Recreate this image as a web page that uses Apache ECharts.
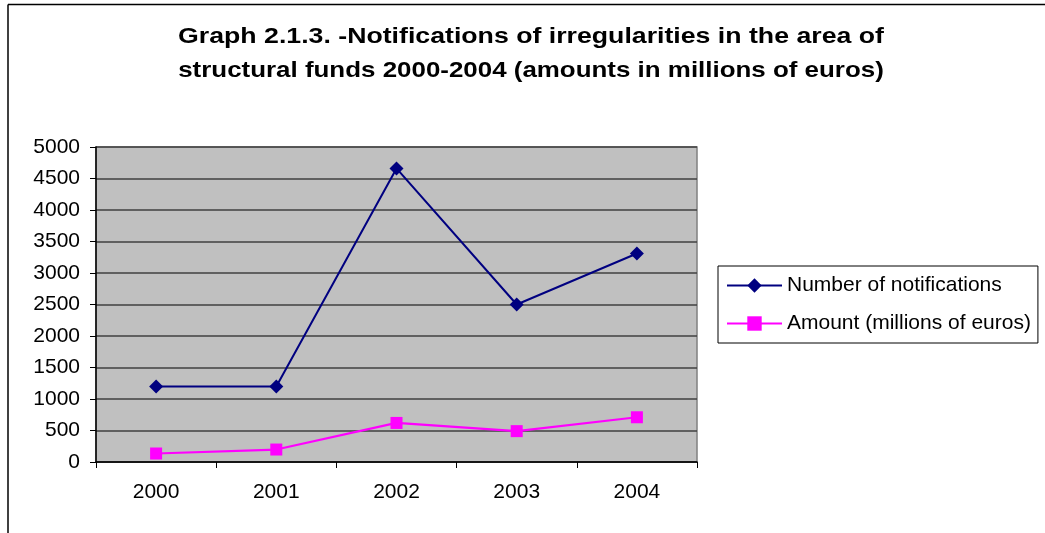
<!DOCTYPE html>
<html>
<head>
<meta charset="utf-8">
<script src="https://cdn.jsdelivr.net/npm/echarts@6/dist/echarts.min.js"></script>
<style>
html,body{margin:0;padding:0;background:#fff;}
#chart{width:1045px;height:533px;}
</style>
</head>
<body>
<div id="chart"></div>
<script>
var titleLines = ['Graph 2.1.3. -Notifications of irregularities in the area of', 'structural funds 2000-2004 (amounts in millions of euros)'];
var years = ['2000', '2001', '2002', '2003', '2004'];
var notifications = [1200, 1200, 4660, 2500, 3310];
var amounts = [135, 198, 620, 490, 710];
var seriesNames = ['Number of notifications', 'Amount (millions of euros)'];

var FONT = '"Liberation Sans", Arial, Helvetica, sans-serif';
var chart = echarts.init(document.getElementById('chart'), null, {renderer: 'canvas'});
chart.setOption({
  animation: false,
  backgroundColor: '#ffffff',
  graphic: [
    {type: 'line', shape: {x1: 8, y1: 4.5, x2: 1045, y2: 4.5}, style: {stroke: '#000', lineWidth: 1.5}, silent: true},
    {type: 'line', shape: {x1: 8, y1: 4.5, x2: 8, y2: 533}, style: {stroke: '#000', lineWidth: 1.5}, silent: true},
    {type: 'text', x: 531, y: 37, scaleX: 1.213, silent: true,
     style: {text: titleLines[0], fill: '#000', font: 'bold 22px ' + FONT, textAlign: 'center', textVerticalAlign: 'middle'}},
    {type: 'text', x: 531, y: 71, scaleX: 1.178, silent: true,
     style: {text: titleLines[1], fill: '#000', font: 'bold 22px ' + FONT, textAlign: 'center', textVerticalAlign: 'middle'}}
  ],
  legend: {
    orient: 'vertical',
    left: 718,
    top: 266,
    padding: [9, 7, 9, 8],
    itemGap: 17,
    itemWidth: 55,
    itemHeight: 18,
    backgroundColor: '#fff',
    borderColor: '#000',
    borderWidth: 1,
    textStyle: {fontFamily: FONT, fontSize: 21, color: '#000'},
    data: seriesNames
  },
  grid: {
    left: 96, top: 147, width: 601, height: 315,
    show: true, backgroundColor: '#C0C0C0', borderColor: '#808080', borderWidth: 1.5
  },
  xAxis: {
    type: 'category',
    data: years,
    boundaryGap: true,
    axisLine: {show: true, lineStyle: {color: '#000', width: 1.5}},
    axisTick: {show: true, length: 6, interval: 0, lineStyle: {color: '#000'}},
    axisLabel: {fontFamily: FONT, fontSize: 21, color: '#000', margin: 20},
    splitLine: {show: false}
  },
  yAxis: {
    type: 'value',
    min: 0, max: 5000, interval: 500,
    axisLine: {show: true, lineStyle: {color: '#000', width: 1.5}},
    axisTick: {show: true, length: 6, lineStyle: {color: '#000'}},
    axisLabel: {fontFamily: FONT, fontSize: 21, color: '#000', margin: 16,
                formatter: function (v) { return String(v); }},
    splitLine: {show: true, lineStyle: {color: '#404040', width: 1.5}}
  },
  series: [
    {
      name: seriesNames[0], type: 'line', data: notifications,
      symbol: 'diamond', symbolSize: 14,
      lineStyle: {color: '#000080', width: 2},
      itemStyle: {color: '#000080'}
    },
    {
      name: seriesNames[1], type: 'line', data: amounts,
      symbol: 'rect', symbolSize: 12,
      lineStyle: {color: '#FF00FF', width: 2.2},
      itemStyle: {color: '#FF00FF'}
    }
  ]
});
</script>
</body>
</html>
